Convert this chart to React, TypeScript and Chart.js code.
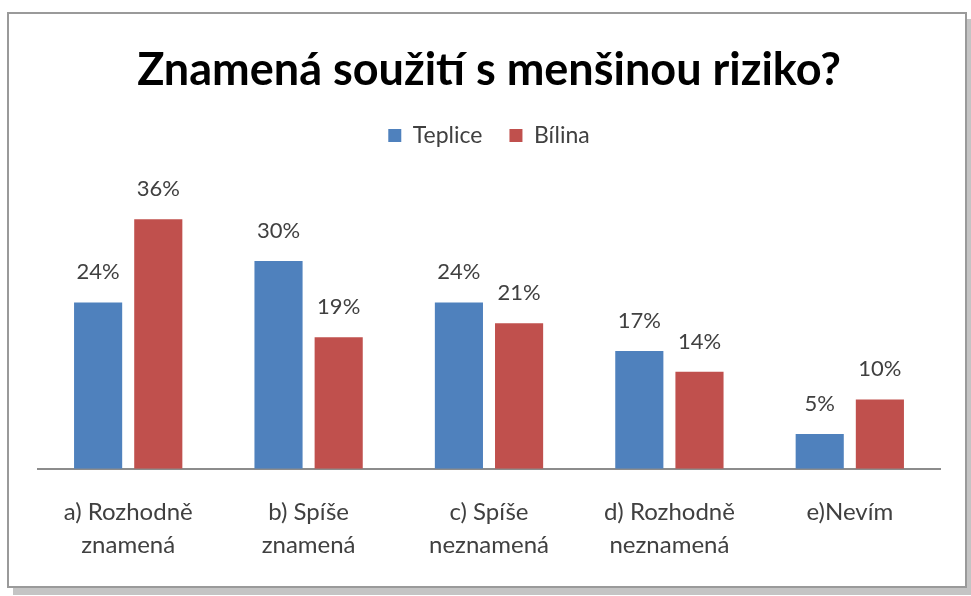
import React, { useEffect, useRef } from "react";
import { Chart, registerables } from "chart.js";

Chart.register(...registerables);

const categories: string[][] = [
  ["a) Rozhodně", "znamená"],
  ["b) Spíše", "znamená"],
  ["c) Spíše", "neznamená"],
  ["d) Rozhodně", "neznamená"],
  ["e)Nevím"],
];
const teplice: number[] = [24, 30, 24, 17, 5];
const bilina: number[] = [36, 19, 21, 14, 10];
const seriesNames: string[] = ["Teplice", "Bílina"];
const titleText = "Znamená soužití s menšinou riziko?";

const FONT = "Lato, 'Open Sans', sans-serif";

const labelPlugin = {
  id: "barLabels",
  afterDatasetsDraw(chart: any) {
    const ctx = chart.ctx;
    ctx.save();
    ctx.font = `22px ${FONT}`;
    ctx.fillStyle = "#404040";
    ctx.textAlign = "center";
    ctx.textBaseline = "alphabetic";
    chart.data.datasets.forEach((ds: any, di: number) => {
      const meta = chart.getDatasetMeta(di);
      meta.data.forEach((el: any, i: number) => {
        ctx.fillText(`${ds.data[i]}%`, el.x, el.y - 23);
      });
    });
    ctx.restore();
  },
};

export default function App() {
  const ref = useRef<HTMLCanvasElement>(null);
  useEffect(() => {
    if (!ref.current) return;
    const chart = new Chart(ref.current, {
      type: "bar",
      data: {
        labels: categories,
        datasets: [
          { label: seriesNames[0], data: teplice, backgroundColor: "#4F81BD" },
          { label: seriesNames[1], data: bilina, backgroundColor: "#C0504D" },
        ],
      },
      options: {
        animation: false,
        responsive: false,
        maintainAspectRatio: false,
        layout: { padding: { left: 38, right: 31, top: 22, bottom: 7 } },
        datasets: { bar: { categoryPercentage: 0.667, barPercentage: 0.8 } } as any,
        plugins: {
          title: {
            display: true,
            text: titleText,
            color: "#000",
            font: { family: FONT, size: 45, weight: "bold" },
            padding: { top: 21, bottom: 0 },
          },
          legend: {
            display: true,
            labels: {
              color: "#404040",
              font: { family: FONT, size: 23 },
              boxWidth: 13,
              boxHeight: 13,
              padding: 27,
            },
          },
          tooltip: { enabled: false },
        },
        scales: {
          x: {
            grid: { display: false, drawTicks: false },
            border: { display: true, color: "#8c8c8c", width: 2 },
            ticks: {
              color: "#404040",
              font: { family: FONT, size: 24, lineHeight: 1.38 },
              padding: 27,
              maxRotation: 0,
            },
          },
          y: {
            display: false,
            min: 0,
            max: 45,
          },
        },
      },
      plugins: [labelPlugin],
    });
    return () => chart.destroy();
  }, []);
  return (
    <div style={{ position: "fixed", left: 0, top: 0, width: 971, height: 596, background: "#fff" }}>
      <div
        style={{
          position: "absolute",
          left: 7,
          top: 12,
          width: 956,
          height: 572,
          border: "2px solid #9a9a9a",
          background: "#fff",
          boxShadow: "6px 7px 0 #c4c4c4",
        }}
      />
      <canvas ref={ref} width={971} height={596} style={{ position: "absolute", left: 0, top: 0 }} />
    </div>
  );
}
